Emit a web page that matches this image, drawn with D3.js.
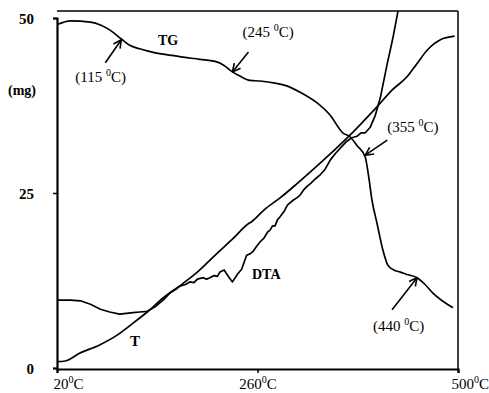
<!DOCTYPE html>
<html>
<head>
<meta charset="utf-8">
<script src="https://cdn.jsdelivr.net/npm/d3@7"></script>
<style>
  body { margin: 0; background: #fff; }
  svg { display: block; }
  text { font-family: "Liberation Serif", "Times New Roman", serif; fill: #000; }
</style>
</head>
<body>
<div class="chart"></div>
<script>
// TG curve: temperature (°C), mass (mg)
var tgTemp = [21, 36, 60, 72, 83, 97, 107, 119, 128, 135, 155, 171, 191, 212, 219, 230, 239, 251, 263, 281, 295, 311, 331, 347, 362, 371, 379, 389, 393, 397, 403, 410, 416, 423, 431, 438, 451, 460, 470, 494];
var tgMass = [49.1, 49.6, 49.4, 49.0, 48.3, 47.0, 46.1, 45.6, 45.3, 45.1, 44.7, 44.4, 44.1, 43.7, 43.3, 42.3, 41.7, 41.1, 41.0, 40.7, 40.3, 39.4, 37.9, 36.1, 33.6, 33.0, 31.8, 30.1, 27.4, 24.0, 20.7, 16.9, 14.7, 14.0, 13.7, 13.4, 12.9, 12.0, 10.7, 8.6];

// T curve
var tTemp = [20, 30, 47, 71, 92, 111, 128, 147, 171, 188, 210, 230, 249, 253, 268, 287, 306, 326, 349, 371, 388, 403, 421, 439, 451, 463, 479, 496];
var tVal  = [0.9, 1.0, 2.1, 3.3, 4.7, 6.4, 8.0, 10.0, 12.1, 13.7, 16.2, 18.4, 20.6, 20.9, 22.6, 24.3, 26.2, 28.3, 30.8, 33.3, 35.4, 37.3, 39.7, 41.6, 43.5, 45.4, 46.9, 47.4];

// DTA curve
var dtaTemp = [20, 36, 48, 60, 72, 83, 95, 111, 119, 128, 137, 147, 155, 162, 167, 173, 179, 184, 188, 195, 199, 203, 208, 212, 215, 220, 225, 230, 236, 241, 247, 251, 255, 259, 263, 268, 272, 275, 278, 281, 284, 287, 292, 296, 303, 307, 311, 315, 319, 324, 329, 335, 341, 347, 353, 359, 367, 373, 379, 384, 389, 395, 401, 407, 415, 422, 429];
var dtaVal  = [9.7, 9.7, 9.6, 9.1, 8.4, 8.0, 7.7, 7.9, 8.0, 8.1, 8.7, 9.7, 10.7, 11.2, 11.7, 11.9, 12.3, 12.2, 12.7, 12.9, 12.7, 12.9, 13.2, 13.1, 13.7, 14.0, 13.1, 12.3, 13.4, 14.1, 16.1, 16.3, 16.7, 17.4, 18.0, 18.6, 19.4, 19.7, 20.3, 20.3, 21.2, 21.6, 22.4, 23.3, 24.0, 24.3, 24.7, 25.4, 25.9, 26.4, 27.0, 27.6, 28.4, 29.7, 30.6, 31.4, 32.4, 32.9, 33.1, 33.6, 33.6, 34.4, 36.1, 38.6, 43.3, 47.1, 51.5];

// tick labels
var xTicks = [20, 260, 500];
var yTicks = [0, 25, 50];

// arrows: temperature label, where the arrow tip lands on TG
var notes = ["(115 ", "(245 ", "(355 ", "(440 "];
var noteTemp = [97, 230, 389, 451];
var noteMass = [46.9, 42.3, 30.4, 12.9];
var noteDir = [[-16, 23, -46, 42], [16, -20, 10, -35], [22, -15, 22, -23], [-25, 32, -44, 53]];

var width = 489, height = 393;

var svg = d3.select(".chart")
  .append("svg")
    .attr("width", width)
    .attr("height", height);

var x = d3.scaleLinear()
    .domain([20, 500])
    .range([57, 458]);

var y = d3.scaleLinear()
    .domain([0, 50])
    .range([368, 18]);

// frame
svg.append("defs").append("clipPath").attr("id", "plot")
  .append("rect")
    .attr("x", x(20)).attr("y", y(51))
    .attr("width", x(500) - x(20)).attr("height", y(0) - y(51) + 1);

svg.append("line")
    .attr("x1", x(20)).attr("x2", x(500))
    .attr("y1", y(51)).attr("y2", y(51))
    .attr("stroke", "#000").attr("stroke-width", 1.5);
svg.append("line")
    .attr("x1", x(500)).attr("x2", x(500))
    .attr("y1", y(51)).attr("y2", y(0) + 1)
    .attr("stroke", "#000").attr("stroke-width", 1.5);

// x axis
var xaxis = d3.axisBottom(x)
    .tickValues(xTicks)
    .tickSize(4)
    .tickPadding(6)
    .tickFormat(function() { return ""; });

var gx = svg.append("g")
    .attr("transform", "translate(0," + (y(0) + 1) + ")")
    .call(xaxis);
gx.select(".domain").attr("stroke-width", 2.2);
gx.selectAll(".tick line").attr("stroke-width", 1.5);

gx.selectAll(".tick text").each(function(d, i) {
  var t = d3.select(this)
      .attr("font-family", "Liberation Serif")
      .style("font-size", "15px")
      .attr("y", 20)
      .attr("dy", 0);
  if (i == 0) t.attr("text-anchor", "start").attr("x", -4);
  if (i == 2) t.attr("text-anchor", "start").attr("x", -7);
  t.append("tspan").text(d);
  t.append("tspan").attr("dy", -6).style("font-size", "10px").text("0");
  t.append("tspan").attr("dy", 6).text("C");
});

// y axis
var yaxis = d3.axisLeft(y)
    .tickValues(yTicks)
    .tickSize(4)
    .tickPadding(19);

var gy = svg.append("g")
    .attr("transform", "translate(" + x(20) + ",0)")
    .call(yaxis);
gy.select(".domain").attr("stroke-width", 2.2);
gy.selectAll(".tick line").attr("stroke-width", 1.5);
gy.selectAll(".tick text")
    .attr("font-family", "Liberation Serif")
    .style("font-size", "15px")
    .style("font-weight", "bold")
    .attr("dy", "0.35em");

svg.append("text")
    .attr("x", 8).attr("y", 95)
    .style("font-size", "14px")
    .style("font-weight", "bold")
    .text("(mg)");

// curves
function curve(xs, ys, c) {
  return d3.line()
      .x(function(d, i) { return x(xs[i]); })
      .y(function(d, i) { return y(ys[i]); })
      .curve(c)(xs);
}

var plot = svg.append("g").attr("clip-path", "url(#plot)");

[[tgTemp, tgMass, d3.curveMonotoneX], [tTemp, tVal, d3.curveMonotoneX], [dtaTemp, dtaVal, d3.curveLinear]].forEach(function(s) {
  plot.append("path")
      .attr("d", curve(s[0], s[1], s[2]))
      .attr("fill", "none")
      .attr("stroke", "#000")
      .attr("stroke-width", 1.7)
      .attr("stroke-linejoin", "round");
});

// curve names
svg.append("text").attr("x", 158).attr("y", 45)
    .style("font-size", "14px").style("font-weight", "bold").text("TG");
svg.append("text").attr("x", 252).attr("y", 279)
    .style("font-size", "14px").style("font-weight", "bold").text("DTA");
svg.append("text").attr("x", 130).attr("y", 346)
    .style("font-size", "15px").style("font-weight", "bold").text("T");

// arrows
svg.select("defs").append("marker")
    .attr("id", "head")
    .attr("viewBox", "0 0 10 10")
    .attr("refX", 9).attr("refY", 5)
    .attr("markerWidth", 10).attr("markerHeight", 10)
    .attr("markerUnits", "userSpaceOnUse")
    .attr("orient", "auto")
  .append("path")
    .attr("d", "M1,1 L9,5 L1,9")
    .attr("fill", "none")
    .attr("stroke", "#000")
    .attr("stroke-width", 1.6);

notes.forEach(function(n, i) {
  var tx = x(noteTemp[i]), ty = y(noteMass[i]);
  var dir = noteDir[i];
  svg.append("line")
      .attr("x1", tx + dir[0]).attr("y1", ty + dir[1])
      .attr("x2", tx).attr("y2", ty)
      .attr("stroke", "#000")
      .attr("stroke-width", 1.6)
      .attr("marker-end", "url(#head)");
  var t = svg.append("text")
      .attr("x", tx + dir[2]).attr("y", ty + dir[3])
      .style("font-size", "15px");
  t.append("tspan").text(n);
  t.append("tspan").attr("dy", -6).style("font-size", "10px").text("0");
  t.append("tspan").attr("dy", 6).text("C)");
});
</script>
</body>
</html>
